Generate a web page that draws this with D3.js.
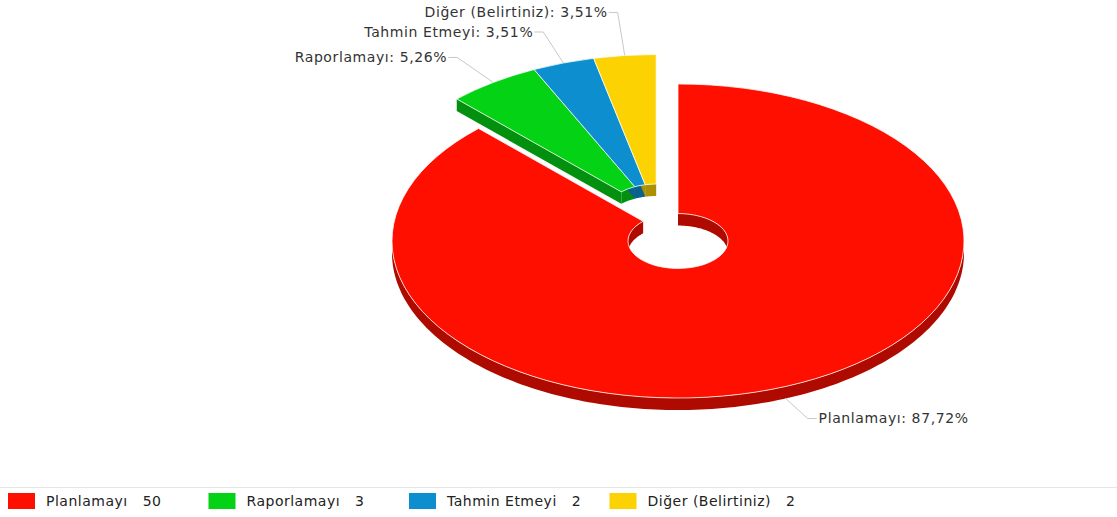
<!DOCTYPE html>
<html><head><meta charset="utf-8">
<script src="https://cdn.jsdelivr.net/npm/d3@7"></script>
<style>body{margin:0;background:#fff;}svg{display:block;font-family:"DejaVu Sans",Verdana,sans-serif;}</style>
</head><body>
<script>
const categories = ["Planlamayı", "Raporlamayı", "Tahmin Etmeyi", "Diğer (Belirtiniz)"];
const values = [50, 3, 2, 2];
const pulled = [false, true, true, true];
const colors = ["#FF0F00", "#04D215", "#0D8ECF", "#FCD202"];

const W = 1117, H = 517;
const cx = 678, cy = 241, R = 286, r0 = 50, ky = 0.549, depth = 12, pullDist = 58;
// label line offsets (layout)
const labelOffsets = [[22, 20], [-36, -25], [-20, -31], [-7, -43]];

const svg = d3.select("body").append("svg").attr("width", W).attr("height", H);
const total = d3.sum(values);
const fmt = v => d3.format(".2f")(v).replace(".", ",");
const arcs = d3.pie().sort(null).value(d => d).startAngle(0).endAngle(2 * Math.PI)(values);

const pArcs = arcs.filter((a, i) => pulled[i]);
const gm = (d3.min(pArcs, a => a.startAngle) + d3.max(pArcs, a => a.endAngle)) / 2;
const off = i => pulled[i] ? [Math.sin(gm) * pullDist, -Math.cos(gm) * pullDist * ky] : [0, 0];

const pt = (a, r, o, z) => [cx + o[0] + r * Math.sin(a), cy + o[1] - r * Math.cos(a) * ky + z];
const line = d3.line();
function wall(a0, a1, r, o) {
  const n = Math.max(2, Math.ceil((a1 - a0) / 0.02));
  const top = d3.range(n + 1).map(k => pt(a0 + (a1 - a0) * k / n, r, o, 0));
  const bot = top.map(p => [p[0], p[1] + depth]).reverse();
  return line(top.concat(bot)) + "Z";
}
const darker = c => d3.rgb(c).darker(1.05).formatHex();

const gInner = svg.append("g"), gFaces = svg.append("g"), gOuter = svg.append("g"), gTop = svg.append("g");
arcs.forEach((a, i) => {
  const o = off(i), a0 = a.startAngle, a1 = a.endAngle, dc = darker(colors[i]);
  [[0, Math.PI / 2], [1.5 * Math.PI, 2 * Math.PI]].forEach(([s, e]) => {
    const u = Math.max(s, a0), v = Math.min(e, a1);
    if (v - u > 1e-6) gInner.append("path").attr("d", wall(u, v, r0, o)).attr("fill", dc);
  });
  {
    const u = Math.max(Math.PI / 2, a0), v = Math.min(1.5 * Math.PI, a1);
    if (v - u > 1e-6) gOuter.append("path").attr("d", wall(u, v, R, o)).attr("fill", dc);
  }
  const face = ang => line([pt(ang, r0, o, 0), pt(ang, R, o, 0), pt(ang, R, o, depth), pt(ang, r0, o, depth)]) + "Z";
  if (Math.sin(a0) < -1e-6) gFaces.append("path").attr("d", face(a0)).attr("fill", dc);
  if (Math.sin(a1) > 1e-6) gFaces.append("path").attr("d", face(a1)).attr("fill", dc);
  gTop.append("path")
    .attr("d", d3.arc().innerRadius(r0).outerRadius(R)(a))
    .attr("transform", `translate(${cx + o[0]},${cy + o[1]}) scale(1,${ky})`)
    .attr("fill", colors[i])
    .attr("stroke", "#fff").attr("stroke-opacity", 0.75).attr("stroke-width", 1)
    .attr("vector-effect", "non-scaling-stroke");
});

// labels
const gLab = svg.append("g");
arcs.forEach((a, i) => {
  const o = off(i), m = (a.startAngle + a.endAngle) / 2;
  const lower = Math.cos(m) < 0;
  const s = pt(m, R, o, lower ? depth : 0);
  const b = [s[0] + labelOffsets[i][0], s[1] + labelOffsets[i][1]];
  const right = Math.sin(m) >= 0;
  const e = [b[0] + (right ? 9 : -9), b[1]];
  gLab.append("path").attr("d", line([s, b, e])).attr("fill", "none")
    .attr("stroke", "#c8c8c8").attr("stroke-width", 1);
  gLab.append("text").attr("x", e[0] + (right ? 2 : -1)).attr("y", b[1])
    .attr("dy", "0.35em").attr("text-anchor", right ? "start" : "end")
    .attr("font-size", 14).attr("letter-spacing", 0.6).attr("fill", "#333")
    .text(`${categories[i]}: ${fmt(values[i] / total * 100)}%`);
});

// legend
svg.append("line").attr("x1", 0).attr("x2", W).attr("y1", 487.5).attr("y2", 487.5)
  .attr("stroke", "#e6e6e6");
const lg = svg.append("g");
categories.forEach((c, i) => {
  const x = 8 + i * 200.5;
  const g = lg.append("g").attr("transform", `translate(${x},493)`);
  g.append("rect").attr("width", 27).attr("height", 16).attr("fill", colors[i]);
  const t = g.append("text").attr("x", 38).attr("y", 8).attr("dy", "0.35em")
    .attr("font-size", 14).attr("letter-spacing", 0.5).attr("fill", "#222").text(c);
  const w = t.node().getComputedTextLength();
  g.append("text").attr("x", 38 + w + 15).attr("y", 8).attr("dy", "0.35em")
    .attr("font-size", 14).attr("letter-spacing", 0.5).attr("fill", "#222").text(values[i]);
});
</script>
</body></html>
